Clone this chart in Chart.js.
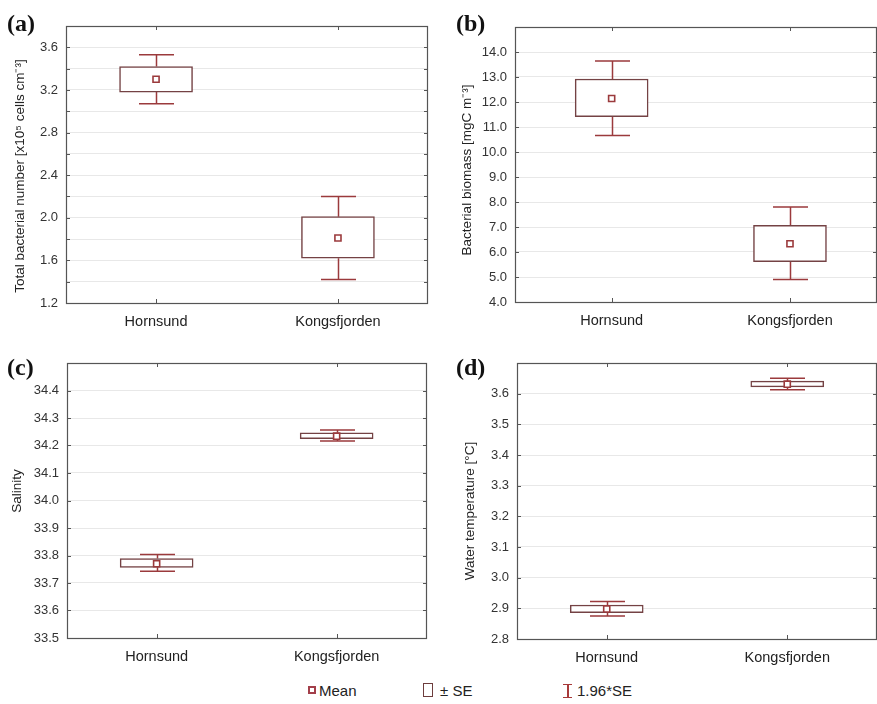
<!DOCTYPE html>
<html><head><meta charset="utf-8">
<script src="https://cdn.jsdelivr.net/npm/chart.js@4.4.1/dist/chart.umd.min.js"></script>
<style>
html,body{margin:0;padding:0;background:#fff;}
body{width:877px;height:704px;position:relative;overflow:hidden;font-family:"Liberation Sans",Arial,sans-serif;}
.pc{position:absolute;}
.pc canvas{display:block;}
.plab{position:absolute;font-family:"Liberation Serif","DejaVu Serif",serif;font-weight:bold;font-size:24px;line-height:1;color:#111;}
.leg{position:absolute;font-size:15px;color:#222;line-height:1;white-space:nowrap;}
</style></head><body>
<div class="pc" style="left:0;top:0;"><canvas id="ca" width="438" height="338"></canvas></div>
<div class="pc" style="left:440px;top:0;"><canvas id="cb" width="437" height="338"></canvas></div>
<div class="pc" style="left:0;top:340px;"><canvas id="cc" width="438" height="338"></canvas></div>
<div class="pc" style="left:440px;top:340px;"><canvas id="cd" width="437" height="338"></canvas></div>
<div class="plab" style="left:7px;top:11px;">(a)</div>
<div class="plab" style="left:456px;top:11px;">(b)</div>
<div class="plab" style="left:7px;top:355px;">(c)</div>
<div class="plab" style="left:456px;top:355px;">(d)</div>

<div style="position:absolute;left:308px;top:686px;width:4px;height:4px;border:2px solid #a33f4a;"></div>
<div class="leg" style="left:319px;top:683px;">Mean</div>
<div style="position:absolute;left:423px;top:683px;width:8px;height:12px;border:1.5px solid #6e3d3d;"></div>
<div class="leg" style="left:440px;top:683px;">± SE</div>
<div style="position:absolute;left:563px;top:684px;width:9px;height:12px;border-top:1.5px solid #a83a3a;border-bottom:1.5px solid #a83a3a;"></div>
<div style="position:absolute;left:567px;top:685px;width:1.5px;height:12px;background:#a83a3a;"></div>
<div class="leg" style="left:577px;top:683px;">1.96*SE</div>

<script>
// ---------- data ----------
const categories = ['Hornsund', 'Kongsfjorden'];

// (a) Total bacterial number
const meanA   = [3.30, 1.81];
const seLowA  = [3.18, 1.62];
const seHighA = [3.42, 2.01];
const ciLowA  = [3.07, 1.42];
const ciHighA = [3.53, 2.20];
const yGridA   = [1.2,1.4,1.6,1.8,2.0,2.2,2.4,2.6,2.8,3.0,3.2,3.4,3.6,3.8];
const yLabelsA = ['1.2','1.6','2.0','2.4','2.8','3.2','3.6'];

// (b) Bacterial biomass
const meanB   = [12.14, 6.33];
const seLowB  = [11.41, 5.61];
const seHighB = [12.92, 7.07];
const ciLowB  = [10.66, 4.90];
const ciHighB = [13.64, 7.80];
const yGridB   = [4,5,6,7,8,9,10,11,12,13,14,15];
const yLabelsB = ['4.0','5.0','6.0','7.0','8.0','9.0','10.0','11.0','12.0','13.0','14.0'];

// (c) Salinity
const meanC   = [33.770, 34.234];
const seLowC  = [33.757, 34.225];
const seHighC = [33.789, 34.246];
const ciLowC  = [33.743, 34.216];
const ciHighC = [33.804, 34.256];
const yGridC   = [33.5,33.6,33.7,33.8,33.9,34.0,34.1,34.2,34.3,34.4,34.5];
const yLabelsC = ['33.5','33.6','33.7','33.8','33.9','34.0','34.1','34.2','34.3','34.4'];

// (d) Water temperature
const meanD   = [2.898, 3.631];
const seLowD  = [2.886, 3.622];
const seHighD = [2.911, 3.641];
const ciLowD  = [2.875, 3.613];
const ciHighD = [2.922, 3.650];
const yGridD   = [2.8,2.9,3.0,3.1,3.2,3.3,3.4,3.5,3.6,3.7];
const yLabelsD = ['2.8','2.9','3.0','3.1','3.2','3.3','3.4','3.5','3.6'];

const yTitles = [
  'Total bacterial number [x10\u2075 cells cm\u207B\u00B3]',
  'Bacterial biomass [mgC m\u207B\u00B3]',
  'Salinity',
  'Water temperature [\u00B0C]'
];

// ---------- styles ----------
const BOX_COLOR = '#744244';
const WHISKER_COLOR = '#9b3a3c';
const MEAN_COLOR = '#9b3a3c';
const FRAME_COLOR = '#555';
const FONT = '"Liberation Sans", Arial, sans-serif';

const decoPlugin = {
  id: 'deco',
  beforeDatasetsDraw(chart) {
    const o = chart.options.plugins.deco;
    const xs = chart.scales.x, ys = chart.scales.y, ctx = chart.ctx;
    ctx.save();
    ctx.strokeStyle = WHISKER_COLOR;
    ctx.lineWidth = 1.5;
    const half = o.cap / 2;
    o.mean.forEach((m, i) => {
      const px = Math.round(xs.getPixelForValue(i)) + 0.5;
      [[o.ciHi[i], o.seHi[i]], [o.ciLo[i], o.seLo[i]]].forEach(([c, s]) => {
        const pc = ys.getPixelForValue(c), ps = ys.getPixelForValue(s);
        ctx.beginPath();
        ctx.moveTo(px, pc); ctx.lineTo(px, ps);
        ctx.moveTo(px - half, pc); ctx.lineTo(px + half, pc);
        ctx.stroke();
      });
    });
    ctx.restore();
  },
  afterDraw(chart) {
    const o = chart.options.plugins.deco;
    const a = chart.chartArea, ctx = chart.ctx;
    const ys = chart.scales.y, xs = chart.scales.x;
    ctx.save();
    ctx.strokeStyle = FRAME_COLOR;
    ctx.lineWidth = 1.2;
    ctx.strokeRect(Math.round(a.left) + 0.5, Math.round(a.top) + 0.5, Math.round(a.right - a.left) - 1, Math.round(a.bottom - a.top));
    ctx.lineWidth = 1;
    ctx.beginPath();
    ys.ticks.forEach(t => {
      const py = Math.round(ys.getPixelForValue(t.value)) + 0.5;
      ctx.moveTo(a.left, py); ctx.lineTo(a.left + 4, py);
      ctx.moveTo(a.right - 4, py); ctx.lineTo(a.right, py);
    });
    xs.ticks.forEach(t => {
      const px = Math.round(xs.getPixelForValue(t.value)) + 0.5;
      ctx.moveTo(px, a.top); ctx.lineTo(px, a.top + 4);
      ctx.moveTo(px, a.bottom); ctx.lineTo(px, a.bottom - 4);
    });
    ctx.stroke();
    // y axis title
    ctx.fillStyle = '#222';
    ctx.font = '13.5px ' + FONT;
    ctx.textAlign = 'center';
    ctx.textBaseline = 'middle';
    ctx.translate(o.titleX, o.titleY);
    ctx.rotate(-Math.PI / 2);
    ctx.fillText(o.title, 0, 0);
    ctx.restore();
  }
};

function makePanel(id, p) {
  new Chart(document.getElementById(id), {
    type: 'bar',
    data: {
      datasets: [
        {
          type: 'scatter',
          data: p.mean.map((v, i) => ({x: i, y: v})),
          pointStyle: 'rect',
          pointRadius: 4.3,
          pointBackgroundColor: '#fff',
          pointBorderColor: MEAN_COLOR,
          pointBorderWidth: 1.6,
          order: 1
        },
        {
          type: 'bar',
          data: p.seLo.map((v, i) => ({x: i, y: [p.seLo[i], p.seHi[i]]})),
          backgroundColor: '#fff',
          borderColor: BOX_COLOR,
          borderWidth: 1.5,
          borderSkipped: false,
          barThickness: 73,
          order: 2
        }
      ]
    },
    options: {
      responsive: false,
      animation: false,
      devicePixelRatio: 1,
      events: [],
      layout: {autoPadding: false, padding: {top: p.padTop, right: p.padRight, left: 0, bottom: 0}},
      plugins: {
        legend: {display: false},
        tooltip: {enabled: false},
        deco: {
          mean: p.mean, seLo: p.seLo, seHi: p.seHi, ciLo: p.ciLo, ciHi: p.ciHi,
          cap: 35, title: p.title, titleX: p.titleX, titleY: p.titleY
        }
      },
      scales: {
        x: {
          type: 'linear',
          offset: false,
          min: p.xMin, max: p.xMax,
          afterBuildTicks: s => { s.ticks = categories.map((c, i) => ({value: i})); },
          afterFit: s => { s.height = p.xH; },
          grid: {display: false, drawTicks: false, offset: false},
          border: {display: false},
          ticks: {
            autoSkip: false, maxRotation: 0, padding: 10,
            color: '#222', font: {family: FONT, size: 14.5},
            callback: v => categories[v] ?? ''
          }
        },
        y: {
          type: 'linear',
          min: p.yMin, max: p.yMax,
          beginAtZero: false,
          afterBuildTicks: s => { s.ticks = p.grid.map(v => ({value: v})); },
          afterFit: s => { s.width = p.yW; },
          grid: {color: '#e8e8e8', lineWidth: 1, drawTicks: false},
          border: {display: false},
          ticks: {
            autoSkip: false, padding: 8,
            color: '#333', font: {family: FONT, size: 13},
            callback: v => {
              const lab = p.labels.find(l => Math.abs(parseFloat(l) - v) < 1e-6);
              return lab ?? '';
            }
          }
        }
      }
    },
    plugins: [decoPlugin]
  });
}

makePanel('ca', {mean: meanA, seLo: seLowA, seHi: seHighA, ciLo: ciLowA, ciHi: ciHighA,
  grid: yGridA, labels: yLabelsA, yMin: 1.2, yMax: 3.8, xMin: -0.495, xMax: 1.495,
  padTop: 26, padRight: 10, yW: 66, xH: 35, title: yTitles[0], titleX: 20, titleY: 176});
makePanel('cb', {mean: meanB, seLo: seLowB, seHi: seHighB, ciLo: ciLowB, ciHi: ciHighB,
  grid: yGridB, labels: yLabelsB, yMin: 4, yMax: 15, xMin: -0.542, xMax: 1.488,
  padTop: 27, padRight: 0, yW: 75, xH: 36, title: yTitles[1], titleX: 27, titleY: 170});
makePanel('cc', {mean: meanC, seLo: seLowC, seHi: seHighC, ciLo: ciLowC, ciHi: ciHighC,
  grid: yGridC, labels: yLabelsC, yMin: 33.5, yMax: 34.5, xMin: -0.498, xMax: 1.502,
  padTop: 23, padRight: 11, yW: 67, xH: 40, title: yTitles[2], titleX: 17, titleY: 151});
makePanel('cd', {mean: meanD, seLo: seLowD, seHi: seHighD, ciLo: ciLowD, ciHi: ciHighD,
  grid: yGridD, labels: yLabelsD, yMin: 2.8, yMax: 3.7, xMin: -0.497, xMax: 1.497,
  padTop: 23, padRight: 0, yW: 77, xH: 39, title: yTitles[3], titleX: 30, titleY: 171});
</script>
</body></html>
